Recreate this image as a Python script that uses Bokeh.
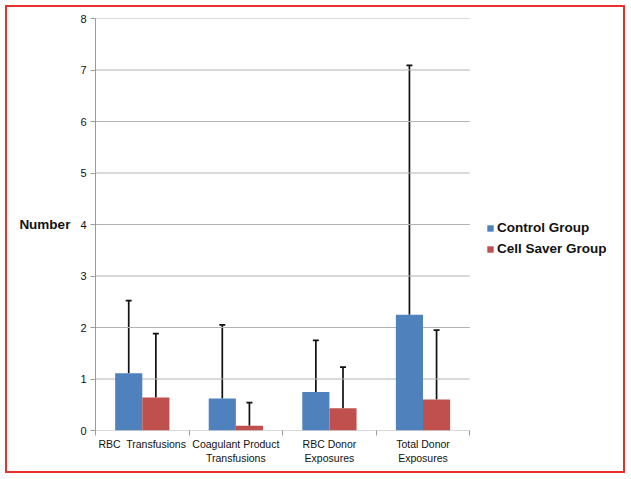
import numpy as np
from bokeh.plotting import figure
from bokeh.models import (ColumnDataSource, Whisker, TeeHead, FixedTicker, Legend,
                          LegendItem, Range1d)
from bokeh.embed import file_html
from bokeh.resources import INLINE

categories = ["RBC\u00a0 Transfusions", "Coagulant Product\nTransfusions",
              "RBC Donor\nExposures", "Total Donor\nExposures"]
control_mean = [1.11, 0.62, 0.75, 2.25]
control_upper = [2.52, 2.05, 1.75, 7.09]
saver_mean = [0.64, 0.09, 0.43, 0.60]
saver_upper = [1.88, 0.54, 1.23, 1.95]
series_names = ["Control Group", "Cell Saver Group"]
y_ticks = [0, 1, 2, 3, 4, 5, 6, 7, 8]

BLUE = "#4F81BD"
RED = "#C0504D"
GRID = "#b3b3b3"
BW = 0.29
n = len(categories)

W, H = 620, 468
p = figure(width=W, height=H, output_backend="svg", toolbar_location=None,
           x_range=Range1d(0, n + 1.6), y_range=Range1d(0, 8),
           min_border_left=88, min_border_right=8, min_border_top=11,
           min_border_bottom=45)
p.outline_line_color = None
p.background_fill_color = "white"
p.border_fill_color = "white"
p.styles = {"border": "2px solid #e8312f", "box-sizing": "border-box", "margin": "5px"}

# horizontal grid lines only across the category area
p.segment(x0=0, x1=n, y0=y_ticks, y1=y_ticks, line_color=GRID, line_width=1)

centers = np.arange(n) + 0.5
src_c = ColumnDataSource(dict(x=centers - BW / 2, top=control_mean, upper=control_upper))
src_s = ColumnDataSource(dict(x=centers + BW / 2, top=saver_mean, upper=saver_upper))

r1 = p.vbar(x="x", top="top", width=BW, source=src_c, fill_color=BLUE, line_color=None)
r2 = p.vbar(x="x", top="top", width=BW, source=src_s, fill_color=RED, line_color=None)

for src in (src_c, src_s):
    w = Whisker(source=src, base="x", lower="top", upper="upper", dimension="height",
                line_color="#111111", line_width=1.7, lower_head=None,
                upper_head=TeeHead(size=6, line_color="#111111", line_width=1.7))
    p.add_layout(w)

# axes
p.xaxis.ticker = FixedTicker(ticks=list(centers), minor_ticks=list(range(n + 1)))
p.xaxis.major_label_overrides = {float(c): lab for c, lab in zip(centers, categories)}
p.xaxis.major_tick_out = 0
p.xaxis.major_tick_in = 0
p.xaxis.minor_tick_out = 5
p.xaxis.minor_tick_in = 0
p.xaxis.minor_tick_line_color = "#9a9a9a"
p.xaxis.axis_line_color = None
p.xaxis.major_label_text_font = "Liberation Sans"
p.xaxis.major_label_text_font_size = "10.5px"
p.xaxis.major_label_text_color = "#111111"
p.xaxis.major_label_standoff = 2
p.xgrid.grid_line_color = None
p.ygrid.grid_line_color = None

p.yaxis.ticker = FixedTicker(ticks=y_ticks)
p.yaxis.minor_tick_line_color = None
p.yaxis.major_tick_out = 5
p.yaxis.major_tick_in = 0
p.yaxis.major_tick_line_color = "#9a9a9a"
p.yaxis.axis_line_color = "#9a9a9a"
p.yaxis.major_label_text_font = "Liberation Sans"
p.yaxis.major_label_text_font_size = "11px"
p.yaxis.major_label_text_color = "#111111"
p.yaxis.major_label_standoff = 4
p.yaxis.axis_label = "Number"
p.yaxis.axis_label_orientation = "horizontal"
p.yaxis.axis_label_text_font = "Liberation Sans"
p.yaxis.axis_label_text_font_style = "bold"
p.yaxis.axis_label_text_font_size = "13.5px"
p.yaxis.axis_label_text_color = "#111111"
p.yaxis.axis_label_standoff = 7

# legend
legend = Legend(items=[LegendItem(label=series_names[0], renderers=[r1]),
                       LegendItem(label=series_names[1], renderers=[r2])],
                location=(391, 174), glyph_width=8, glyph_height=8,
                label_text_font="Liberation Sans", label_text_font_style="bold",
                label_text_font_size="13.5px", label_text_color="#111111",
                spacing=6, label_standoff=3, border_line_color=None,
                background_fill_alpha=0, padding=2, margin=0)
p.add_layout(legend, "center")

open("out.html", "w").write(file_html(p, INLINE))
